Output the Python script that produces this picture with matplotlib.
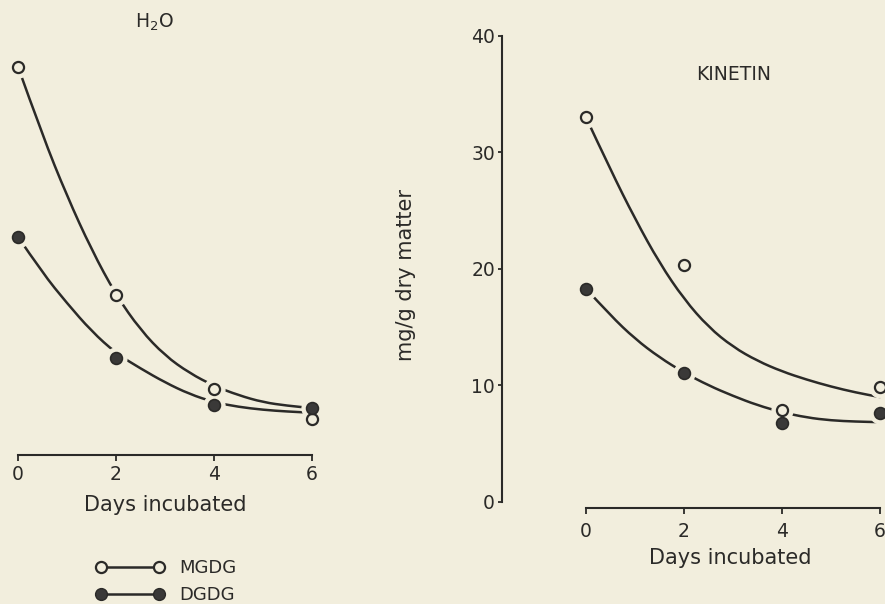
import matplotlib.pyplot as plt
from matplotlib.lines import Line2D
from matplotlib.path import Path
from matplotlib.patches import PathPatch

# measured points (mg/g dry matter)
days = [0, 2, 4, 6]
h2o_mgdg = [32.9, 13.3, 5.2, 2.7]
h2o_dgdg = [18.3, 7.9, 3.9, 3.6]
kin_mgdg = [33.0, 20.3, 7.9, 9.9]
kin_dgdg = [18.3, 11.1, 6.8, 7.6]

# hand drawn curves, every half day
curve_days = [0, 0.5, 1, 1.5, 2, 2.5, 3, 3.5, 4, 4.5, 5, 5.5, 6]
h2o_mgdg_curve = [32.9, 27.0, 21.8, 17.2, 13.3, 10.3, 8.1, 6.6, 5.5, 4.7, 4.1, 3.8, 3.6]
h2o_dgdg_curve = [18.3, 15.2, 12.6, 10.2, 8.3, 7.0, 5.8, 4.8, 4.1, 3.7, 3.45, 3.3, 3.2]
kin_mgdg_curve = [33.0, 28.5, 24.3, 20.5, 17.4, 15.0, 13.3, 12.1, 11.2, 10.5, 9.9, 9.4, 9.0]
kin_dgdg_curve = [18.3, 16.0, 14.0, 12.4, 11.1, 10.0, 9.1, 8.3, 7.7, 7.25, 7.0, 6.9, 6.85]

x_ticks = [0, 2, 4, 6]
y_ticks = [0, 10, 20, 30, 40]

BG = '#f2eedd'
INK = '#2b2a28'
W, H = 885, 604

plt.rcParams['font.family'] = ['DejaVu Sans']


def px_box(x0, y0, x1, y1):
    # pixel box (top-left origin) -> figure fraction
    return [x0 / W, 1 - y1 / H, (x1 - x0) / W, (y1 - y0) / H]


def smooth_curve(ax, xs, ys):
    # quadratic bezier through the midpoints, read values as control points
    verts = [(xs[0], ys[0])]
    codes = [Path.MOVETO]
    for i in range(1, len(xs) - 1):
        verts += [(xs[i], ys[i]), ((xs[i] + xs[i + 1]) / 2, (ys[i] + ys[i + 1]) / 2)]
        codes += [Path.CURVE3, Path.CURVE3]
    verts.append((xs[-1], ys[-1]))
    codes.append(Path.LINETO)
    ax.add_patch(PathPatch(Path(verts, codes), fill=False, ec=INK, lw=1.8,
                           capstyle='round', zorder=2, clip_on=False))


def draw_series(ax, x, y, cx, cy, filled):
    smooth_curve(ax, cx, cy)
    # cream halo so the curve stops short of each point
    ax.plot(x, y, 'o', ms=15, color=BG, mec=BG, zorder=3, clip_on=False)
    if filled:
        ax.plot(x, y, 'o', ms=8.5, color='#3a3938', mec=INK, mew=1.2,
                zorder=4, clip_on=False)
    else:
        ax.plot(x, y, 'o', ms=8, mfc=BG, mec=INK, mew=1.6,
                zorder=4, clip_on=False)


fig = plt.figure(figsize=(W / 100, H / 100), dpi=100, facecolor=BG)

# left panel: H2O (no y axis drawn)
ax1 = fig.add_axes(px_box(8, 10, 322, 455))
ax1.set_facecolor('none')
ax1.set_xlim(-0.204, 6.204)
ax1.set_ylim(-0.43, 37.77)
draw_series(ax1, days, h2o_mgdg, curve_days, h2o_mgdg_curve, False)
draw_series(ax1, days, h2o_dgdg, curve_days, h2o_dgdg_curve, True)
for s in ['left', 'right', 'top']:
    ax1.spines[s].set_visible(False)
ax1.spines['bottom'].set_bounds(0, 6)
ax1.spines['bottom'].set_linewidth(1.5)
ax1.spines['bottom'].set_color(INK)
ax1.set_yticks([])
ax1.set_xticks(x_ticks)
ax1.tick_params(axis='x', length=4, width=1.3, color=INK, pad=3,
                labelsize=13.5, labelcolor=INK)
ax1.set_xlabel('Days incubated', fontsize=15, color=INK)
ax1.xaxis.set_label_coords(0.5, -0.09)

# right panel: kinetin
ax2 = fig.add_axes(px_box(502, 30, 884, 508))
ax2.set_facecolor('none')
ax2.set_xlim(-1.714, 6.08)
ax2.set_ylim(-0.515, 40.5)
draw_series(ax2, days, kin_mgdg, curve_days, kin_mgdg_curve, False)
draw_series(ax2, days, kin_dgdg, curve_days, kin_dgdg_curve, True)
for s in ['right', 'top']:
    ax2.spines[s].set_visible(False)
ax2.spines['bottom'].set_bounds(0, 6)
ax2.spines['left'].set_bounds(0, 40)
for s in ['left', 'bottom']:
    ax2.spines[s].set_linewidth(1.5)
    ax2.spines[s].set_color(INK)
ax2.set_xticks(x_ticks)
ax2.set_yticks(y_ticks)
ax2.tick_params(axis='x', length=4, width=1.3, color=INK, pad=6,
                labelsize=13.5, labelcolor=INK)
ax2.tick_params(axis='y', length=3, width=1.3, color=INK, pad=2,
                labelsize=13.5, labelcolor=INK)
ax2.set_xlabel('Days incubated', fontsize=15, color=INK)
ax2.xaxis.set_label_coords(0.597, -0.084)
ax2.set_ylabel('mg/g dry matter', fontsize=15, color=INK)
ax2.yaxis.set_label_coords(-0.225, 0.487)

fig.text(154 / W, 1 - 22 / H, 'H$_2$O', fontsize=13.5, color=INK,
         ha='center', va='center')
fig.text(734 / W, 1 - 75 / H, 'KINETIN', fontsize=13.5, color=INK,
         ha='center', va='center')

handles = [
    Line2D([], [], color=INK, lw=1.8, marker='o', ms=8, mfc=BG, mec=INK, mew=1.6),
    Line2D([], [], color=INK, lw=1.8, marker='o', ms=8.5, mfc='#3a3938', mec=INK),
]
fig.legend(handles, ['MGDG', 'DGDG'], loc='upper left',
           bbox_to_anchor=(96 / W, 1 - 559 / H), frameon=False, numpoints=2,
           fontsize=13, handlelength=3.8, handletextpad=0.8, labelspacing=0.5,
           borderpad=0, borderaxespad=0, labelcolor=INK)

fig.savefig('out.png', dpi=100, facecolor=BG)
